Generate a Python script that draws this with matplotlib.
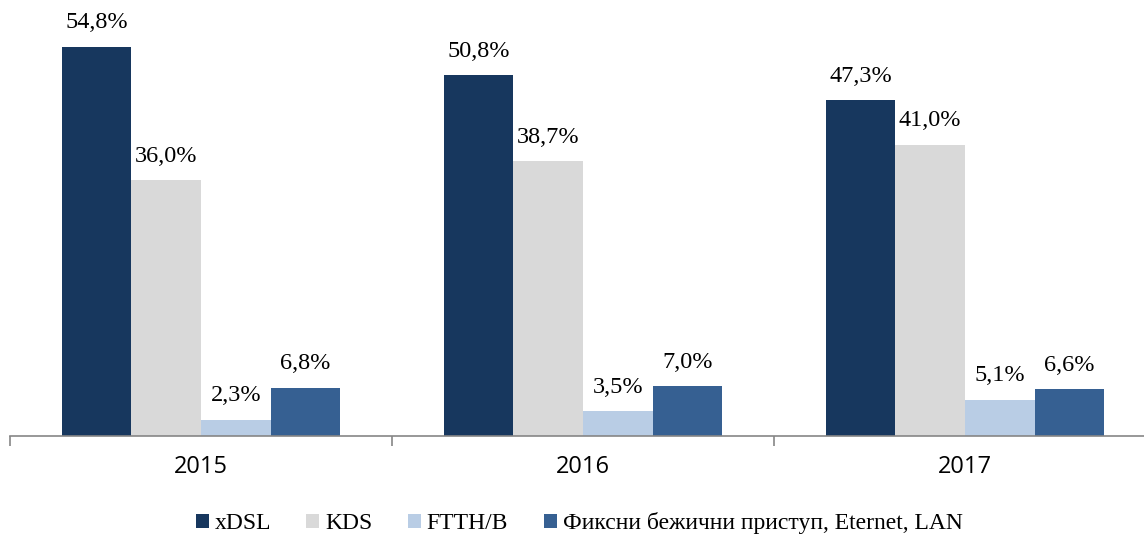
import numpy as np
import matplotlib.pyplot as plt
from matplotlib.patches import Patch

years = ['2015', '2016', '2017']
series = ['xDSL', 'KDS', 'FTTH/B', 'Фиксни бежични приступ, Eternet, LAN']
xdsl = [54.8, 50.8, 47.3]
kds = [36.0, 38.7, 41.0]
ftth = [2.3, 3.5, 5.1]
fixed = [6.8, 7.0, 6.6]
colors = ['#17375E', '#D9D9D9', '#B9CDE5', '#366092']

values = [xdsl, kds, ftth, fixed]

fig = plt.figure(figsize=(11.44, 5.37), dpi=100)
ax = fig.add_axes([10 / 1144, 101 / 537, 1146 / 1144, 436 / 537])

x = np.arange(len(years))
w = 0.182
for i, vals in enumerate(values):
    pos = x + (i - 1.5) * w
    bars = ax.bar(pos, vals, width=w, color=colors[i], label=series[i])
    for b, v in zip(bars, vals):
        ax.text(b.get_x() + b.get_width() / 2, v + 1.9, f'{v:.1f}%'.replace('.', ','),
                ha='center', va='bottom', fontsize=17.5, family='Liberation Serif')

ax.set_xlim(-0.5, 2.5)
ax.set_ylim(0, 61.4)
ax.set_yticks([])
for s in ['top', 'right', 'left']:
    ax.spines[s].set_visible(False)
ax.spines['bottom'].set_color('#868686')
ax.spines['bottom'].set_linewidth(1.2)
ax.set_xticks(x)
ax.set_xticklabels(years, fontsize=17, family='Open Sans')
ax.tick_params(axis='x', which='major', length=0, pad=14)
ax.set_xticks([-0.5, 0.5, 1.5, 2.5], minor=True)
ax.tick_params(axis='x', which='minor', length=7, color='#868686', width=1.2)

handles = [Patch(facecolor=c, edgecolor='none') for c in colors]
fig.legend(handles, series, loc='center', bbox_to_anchor=(579 / 1144, 1 - 523 / 537),
           ncol=4, frameon=False, prop={'family': 'Liberation Serif', 'size': 17},
           handlelength=0.55, handleheight=0.55, handletextpad=0.25, columnspacing=1.5)

fig.savefig('out.png', dpi=100)
